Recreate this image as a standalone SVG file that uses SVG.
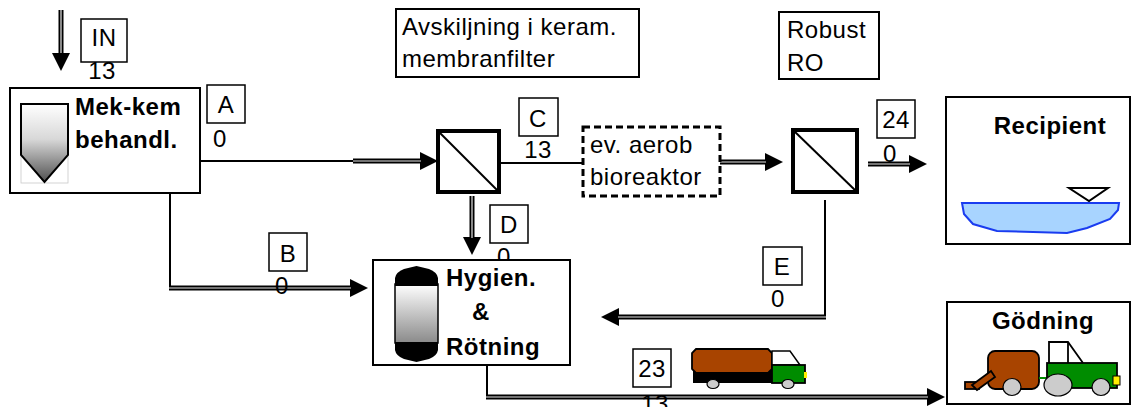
<svg xmlns="http://www.w3.org/2000/svg" width="1132" height="407" viewBox="0 0 1132 407">
  <style>
    text { font-family: "Liberation Sans", Arial, sans-serif; font-size: 24px; letter-spacing: 0.5px; fill: #000; }
    .b { font-weight: bold; }
    .mid { text-anchor: middle; }
    .box { fill: #fff; stroke: #000; stroke-width: 2; }
    .lbl { fill: #fff; stroke: #000; stroke-width: 1.5; }
    .filter { fill: #fff; stroke: #000; stroke-width: 4; }
    .thin { fill: none; stroke: #000; stroke-width: 2; }
    .pipe-core { fill: none; stroke: #e6e6e6; stroke-width: 1.2; }
    .pipe-end { fill: none; stroke: #000; stroke-width: 5; marker-end: url(#head); }
    .wheel { fill: #cccccc; stroke: #000; stroke-width: 1.2; }
    .brown { fill: #a84400; stroke: #000; stroke-width: 1.8; }
    .green { fill: #008c00; stroke: #000; stroke-width: 1.8; }
  </style>
  <defs>
    <marker id="head" markerUnits="userSpaceOnUse" viewBox="0 -9 18 18" refX="0" refY="0" markerWidth="18" markerHeight="18" orient="auto" overflow="visible">
      <path d="M0,-9 L18,0 L0,9 Z" fill="#000"/>
    </marker>
    <linearGradient id="metal" x1="0" y1="0" x2="0" y2="1">
      <stop offset="0" stop-color="#ffffff"/>
      <stop offset="0.45" stop-color="#d8d8d8"/>
      <stop offset="1" stop-color="#505050"/>
    </linearGradient>
    <linearGradient id="tank" x1="0" y1="0" x2="0" y2="1">
      <stop offset="0" stop-color="#ffffff"/>
      <stop offset="1" stop-color="#8a8a8a"/>
    </linearGradient>
  </defs>
  <rect width="1132" height="407" fill="#fff"/>

  <!-- connectors -->
  <g id="connectors">
    <!-- IN feed -->
    <path class="pipe-end" d="M61,10 V53"/>
    <path class="pipe-core" d="M61,10 V53"/>
    <!-- A: pretreatment to ceramic membrane -->
    <path class="thin" d="M200,161 H354"/>
    <path class="pipe-end" d="M353,161 H420"/>
    <path class="pipe-core" d="M353,161 H421"/>
    <!-- B: bypass to digester -->
    <path class="thin" d="M170,193 V288"/>
    <path class="pipe-end" d="M169,288 H350"/>
    <path class="pipe-core" d="M169,288 H351"/>
    <!-- C: permeate to bioreactor -->
    <path class="thin" d="M499,163 H583"/>
    <!-- D: membrane concentrate to digester -->
    <path class="pipe-end" d="M472,196 V237"/>
    <path class="pipe-core" d="M472,196 V238"/>
    <!-- bioreactor to RO -->
    <path class="pipe-end" d="M715,162 H765"/>
    <path class="pipe-core" d="M717,162 H766"/>
    <!-- 24: RO permeate to recipient -->
    <path class="pipe-end" d="M868,164 H909"/>
    <path class="pipe-core" d="M868,164 H910"/>
    <!-- E: RO concentrate back to digester -->
    <path class="thin" d="M825,200 V318"/>
    <path class="pipe-end" d="M826,317 H619"/>
    <path class="pipe-core" d="M826,317 H618"/>
    <!-- 23: digestate to fertilising -->
    <path class="thin" d="M487,365 V397"/>
    <path class="pipe-end" d="M486,397 H927"/>
    <path class="pipe-core" d="M486,397 H928"/>
  </g>

  <!-- stream labels -->
  <g id="stream-IN">
    <rect class="lbl" x="81" y="19" width="46" height="43"/>
    <text x="104" y="46" class="mid">IN</text>
    <text x="102" y="79" class="mid">13</text>
  </g>
  <g id="stream-A">
    <rect class="lbl" x="207" y="85" width="38" height="38"/>
    <text x="226" y="113" class="mid">A</text>
    <text x="220" y="147" class="mid">0</text>
  </g>
  <g id="stream-B">
    <rect class="lbl" x="269" y="233" width="38" height="38"/>
    <text x="288" y="262" class="mid">B</text>
    <text x="282" y="294" class="mid">0</text>
  </g>
  <g id="stream-C">
    <rect class="lbl" x="519" y="98" width="39" height="38"/>
    <text x="538" y="127" class="mid">C</text>
    <text x="538" y="158" class="mid">13</text>
  </g>
  <g id="stream-D">
    <rect class="lbl" x="490" y="205" width="38" height="38"/>
    <text x="509" y="233" class="mid">D</text>
    <text x="504" y="265" class="mid">0</text>
  </g>
  <g id="stream-E">
    <rect class="lbl" x="763" y="247" width="39" height="38"/>
    <text x="782" y="275" class="mid">E</text>
    <text x="778" y="307" class="mid">0</text>
  </g>
  <g id="stream-24">
    <rect class="lbl" x="877" y="100" width="38" height="38"/>
    <text x="896" y="128" class="mid">24</text>
    <text x="890" y="162" class="mid">0</text>
  </g>
  <g id="stream-23">
    <rect class="lbl" x="633" y="349" width="38" height="38"/>
    <text x="652" y="377" class="mid">23</text>
    <text x="655" y="412" class="mid">13</text>
  </g>

  <!-- mechanical-chemical pretreatment -->
  <g id="mek-kem">
    <rect class="box" x="10" y="88" width="190" height="105"/>
    <rect x="21" y="104" width="47" height="79" fill="none" stroke="#c8c8c8" stroke-width="0.8"/>
    <path d="M21,104 H68 V155 L44.5,182 L21,155 Z" fill="url(#metal)" stroke="#000" stroke-width="2"/>
    <text x="75" y="115" class="b">Mek-kem</text>
    <text x="75" y="148" class="b">behandl.</text>
  </g>

  <!-- ceramic membrane filter -->
  <g id="membranfilter">
    <rect class="box" x="396" y="9" width="243" height="68"/>
    <text x="402" y="35">Avskiljning i keram.</text>
    <text x="402" y="67">membranfilter</text>
    <rect class="filter" x="438" y="131" width="61" height="61"/>
    <path class="thin" d="M438,131 L499,192"/>
  </g>

  <!-- optional aerobic bioreactor -->
  <g id="bioreaktor">
    <rect x="583" y="127" width="137" height="69" fill="#fff" stroke="#000" stroke-width="3" stroke-dasharray="7,4"/>
    <text x="590" y="153">ev. aerob</text>
    <text x="590" y="185">bioreaktor</text>
  </g>

  <!-- reverse osmosis -->
  <g id="robust-ro">
    <rect class="box" x="779" y="12" width="100" height="67"/>
    <text x="787" y="38">Robust</text>
    <text x="787" y="71">RO</text>
    <rect class="filter" x="793" y="130" width="64" height="62"/>
    <path class="thin" d="M793,130 L857,192"/>
  </g>

  <!-- hygienisation and digestion -->
  <g id="rotning">
    <rect class="box" x="373" y="260" width="197" height="105"/>
    <rect x="395" y="284" width="43" height="59" fill="url(#tank)" stroke="#000" stroke-width="1.5"/>
    <path d="M395,286 V278 Q396,272 404,269 L416.5,266 L429,269 Q437,272 438,278 V286 Z" fill="#000"/>
    <path d="M395,342 V350 Q396,356 404,359 L416.5,362 L429,359 Q437,356 438,350 V342 Z" fill="#000"/>
    <text x="446" y="286" class="b">Hygien.</text>
    <text x="472" y="320" class="b">&amp;</text>
    <text x="446" y="355" class="b">Rötning</text>
  </g>

  <!-- tanker truck -->
  <g id="truck">
    <rect x="693" y="369" width="80" height="14" fill="#000"/>
    <path class="brown" d="M696,349 H768 L772,353 V369 L768,373 H696 L692,369 V353 Z"/>
    <path d="M772,351 H790 L800,365 H772 Z" fill="#fff" stroke="#000" stroke-width="1.5"/>
    <rect class="green" x="772" y="365" width="33" height="18"/>
    <rect x="804" y="372" width="3" height="6" fill="#ffee00"/>
    <ellipse class="wheel" cx="713" cy="384" rx="6" ry="4.5"/>
    <ellipse class="wheel" cx="788" cy="384" rx="6" ry="4.5"/>
  </g>

  <!-- receiving water -->
  <g id="recipient">
    <rect class="box" x="946" y="97" width="184" height="147"/>
    <text x="1050" y="134" class="b mid">Recipient</text>
    <path d="M962,203 L1119,203 L1118,210 L1110,219 L1087,228 L1067,233 L997,231 L973,224 L964,214 Z" fill="#a8d4ff" stroke="#1a3cf0" stroke-width="2"/>
    <path d="M1069,188 H1108 L1089,201 Z" fill="#fff" stroke="#000" stroke-width="2"/>
  </g>

  <!-- fertilising -->
  <g id="godning">
    <rect class="box" x="947" y="302" width="183" height="102"/>
    <text x="1043" y="329" class="b mid">Gödning</text>
    <rect class="brown" x="988" y="351" width="51" height="38" rx="7"/>
    <rect class="brown" x="965" y="382" width="14" height="7"/>
    <path class="brown" d="M972,385 L991,371 L995,377 L977,390 Z" stroke-width="1.2"/>
    <ellipse class="wheel" cx="1012" cy="387" rx="9" ry="8.5"/>
    <line x1="1039" y1="378" x2="1047" y2="378" stroke="#008c00" stroke-width="2"/>
    <path d="M1049,363 V342 H1068 L1083,363" fill="#fff" stroke="#000" stroke-width="1.8"/>
    <line x1="1068" y1="342" x2="1068" y2="363" stroke="#000" stroke-width="1.8"/>
    <rect class="green" x="1047" y="363" width="70" height="25"/>
    <rect x="1113" y="376" width="7" height="9" fill="#ffee00" stroke="#000" stroke-width="1"/>
    <ellipse class="wheel" cx="1058" cy="385" rx="14" ry="11"/>
    <ellipse class="wheel" cx="1101" cy="387" rx="9" ry="8.5"/>
  </g>
</svg>
